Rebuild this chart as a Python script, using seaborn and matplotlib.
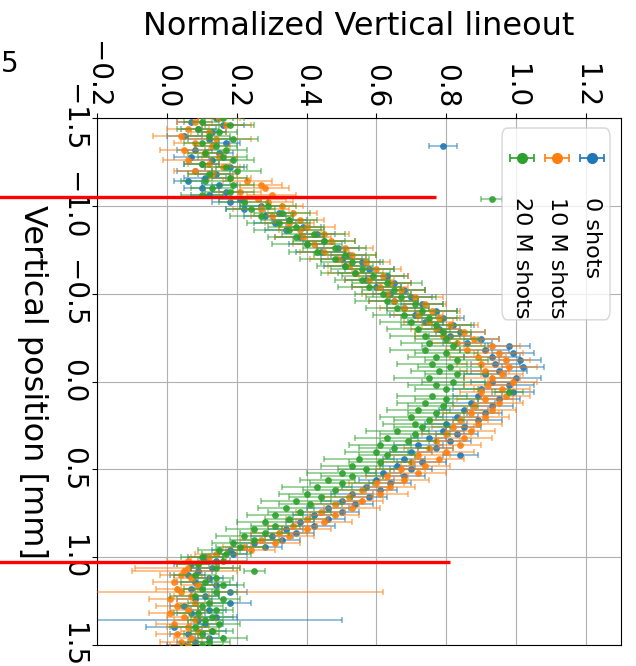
import numpy as np
import matplotlib
matplotlib.use("Agg")
import matplotlib.pyplot as plt
import seaborn as sns
from matplotlib.patches import FancyBboxPatch

# ---------------- data ----------------
positions = np.linspace(-1.5, 1.5, 151)   # vertical position grid [mm]
series_labels = ["0 shots", "10 M shots", "20 M shots"]

blue_vals = [
0.14, 0.07, 0.16, 0.09, 0.13, 0.05, 0.12, 0.17, 0.79, 0.08,
0.15, 0.07, 0.13, 0.10, 0.18, 0.08, 0.14, 0.11, 0.06, 0.15,
0.10, 0.17, 0.12, 0.21, 0.18, 0.27, 0.22, 0.32, 0.28, 0.35,
0.31, 0.39, 0.34, 0.43, 0.38, 0.45, 0.40, 0.49, 0.44, 0.52,
0.50, 0.56, 0.51, 0.58, 0.54, 0.63, 0.57, 0.65, 0.60, 0.68,
0.64, 0.70, 0.65, 0.73, 0.68, 0.77, 0.71, 0.79, 0.74, 0.82,
0.78, 0.84, 0.81, 0.90, 0.86, 0.98, 0.91, 0.99, 0.93, 1.01,
0.94, 1.02, 0.95, 0.91, 1.00, 0.93, 0.98, 0.90, 0.99, 0.89,
0.95, 0.87, 0.93, 0.85, 0.91, 0.83, 0.89, 0.80, 0.85, 0.79,
0.83, 0.75, 0.81, 0.72, 0.77, 0.70, 0.84, 0.68, 0.73, 0.66,
0.70, 0.62, 0.68, 0.60, 0.64, 0.57, 0.61, 0.53, 0.58, 0.50,
0.54, 0.46, 0.50, 0.42, 0.46, 0.38, 0.42, 0.34, 0.37, 0.30,
0.33, 0.25, 0.28, 0.18, 0.19, 0.11, 0.14, 0.07, 0.13, 0.09,
0.06, 0.12, 0.08, 0.14, 0.07, 0.18, 0.11, 0.08, 0.18, 0.05,
0.12, 0.07, 0.14, 0.09, 0.11, 0.02, 0.13, 0.06, 0.12, 0.08,
0.05]

orange_vals = [
0.15, 0.08, 0.17, 0.06, 0.12, 0.04, 0.14, 0.08, 0.13, 0.05,
0.11, 0.15, 0.06, 0.12, 0.16, 0.08, 0.13, 0.18, 0.23, 0.27,
0.28, 0.21, 0.30, 0.26, 0.29, 0.33, 0.27, 0.36, 0.30, 0.38,
0.35, 0.40, 0.38, 0.45, 0.39, 0.47, 0.42, 0.51, 0.45, 0.53,
0.49, 0.57, 0.52, 0.60, 0.54, 0.62, 0.58, 0.64, 0.61, 0.67,
0.63, 0.71, 0.65, 0.74, 0.68, 0.76, 0.72, 0.78, 0.75, 0.81,
0.77, 0.85, 0.79, 0.88, 0.83, 0.93, 0.86, 0.95, 0.89, 0.97,
0.90, 0.98, 0.91, 0.96, 0.93, 0.99, 0.92, 0.96, 0.90, 0.97,
0.91, 0.95, 0.88, 0.93, 0.87, 0.91, 0.84, 0.89, 0.82, 0.87,
0.80, 0.85, 0.77, 0.84, 0.75, 0.80, 0.72, 0.78, 0.70, 0.74,
0.67, 0.72, 0.63, 0.68, 0.60, 0.64, 0.56, 0.61, 0.52, 0.56,
0.48, 0.53, 0.44, 0.48, 0.40, 0.45, 0.36, 0.40, 0.32, 0.35,
0.27, 0.31, 0.22, 0.24, 0.14, 0.12, 0.06, 0.09, 0.06, 0.05,
0.04, 0.07, 0.02, 0.09, 0.03, 0.04, 0.07, 0.01, 0.08, 0.03,
0.06, 0.01, 0.05, 0.08, 0.02, 0.06, 0.09, 0.03, 0.07, 0.04,
0.06]

green_vals = [
0.16, 0.10, 0.18, 0.09, 0.15, 0.12, 0.19, 0.10, 0.14, 0.17,
0.11, 0.16, 0.19, 0.10, 0.17, 0.20, 0.12, 0.18, 0.11, 0.19,
0.13, 0.18, 0.10, 0.93, 0.22, 0.29, 0.24, 0.33, 0.27, 0.35,
0.32, 0.37, 0.35, 0.42, 0.37, 0.45, 0.40, 0.48, 0.43, 0.51,
0.48, 0.53, 0.51, 0.56, 0.54, 0.59, 0.56, 0.63, 0.58, 0.65,
0.62, 0.67, 0.63, 0.71, 0.66, 0.73, 0.68, 0.75, 0.70, 0.77,
0.72, 0.79, 0.74, 0.80, 0.75, 0.82, 0.74, 0.80, 0.77, 0.83,
0.76, 0.81, 0.78, 0.83, 0.75, 0.82, 0.77, 0.80, 0.98, 0.76,
0.80, 0.74, 0.79, 0.72, 0.77, 0.70, 0.75, 0.71, 0.73, 0.66,
0.71, 0.63, 0.69, 0.61, 0.65, 0.60, 0.63, 0.55, 0.61, 0.53,
0.57, 0.50, 0.53, 0.46, 0.50, 0.43, 0.48, 0.40, 0.44, 0.37,
0.41, 0.34, 0.38, 0.31, 0.35, 0.28, 0.31, 0.25, 0.28, 0.22,
0.25, 0.19, 0.21, 0.15, 0.17, 0.10, 0.16, 0.09, 0.14, 0.25,
0.08, 0.14, 0.11, 0.16, 0.10, 0.14, 0.08, 0.16, 0.12, 0.10,
0.14, 0.09, 0.13, 0.11, 0.15, 0.08, 0.13, 0.10, 0.16, 0.12,
0.10]

blue_err = [
0.05, 0.04, 0.06, 0.05, 0.04, 0.05, 0.06, 0.04, 0.04, 0.05,
0.04, 0.05, 0.06, 0.05, 0.04, 0.05, 0.05, 0.06, 0.04, 0.05,
0.05, 0.04, 0.05, 0.06, 0.05, 0.06, 0.05, 0.04, 0.06, 0.05,
0.06, 0.05, 0.06, 0.05, 0.07, 0.06, 0.05, 0.06, 0.07, 0.05,
0.06, 0.05, 0.06, 0.07, 0.05, 0.06, 0.06, 0.05, 0.07, 0.06,
0.05, 0.06, 0.07, 0.06, 0.05, 0.06, 0.07, 0.06, 0.05, 0.06,
0.06, 0.07, 0.06, 0.05, 0.07, 0.06, 0.07, 0.06, 0.08, 0.06,
0.07, 0.06, 0.08, 0.06, 0.07, 0.06, 0.07, 0.08, 0.06, 0.07,
0.06, 0.07, 0.06, 0.07, 0.05, 0.06, 0.07, 0.06, 0.05, 0.06,
0.06, 0.05, 0.06, 0.07, 0.05, 0.06, 0.05, 0.06, 0.07, 0.05,
0.06, 0.05, 0.06, 0.05, 0.06, 0.07, 0.05, 0.06, 0.05, 0.06,
0.05, 0.06, 0.05, 0.06, 0.05, 0.04, 0.06, 0.05, 0.05, 0.06,
0.05, 0.06, 0.05, 0.05, 0.04, 0.05, 0.04, 0.05, 0.06, 0.04,
0.05, 0.04, 0.05, 0.06, 0.04, 0.05, 0.04, 0.05, 0.06, 0.04,
0.05, 0.04, 0.06, 0.41, 0.05, 0.08, 0.04, 0.05, 0.04, 0.05,
0.05]

orange_err = [
0.06, 0.05, 0.07, 0.06, 0.05, 0.08, 0.10, 0.06, 0.05, 0.07,
0.06, 0.05, 0.07, 0.06, 0.05, 0.06, 0.07, 0.06, 0.07, 0.06,
0.07, 0.06, 0.07, 0.08, 0.07, 0.06, 0.08, 0.07, 0.06, 0.07,
0.07, 0.08, 0.06, 0.07, 0.08, 0.07, 0.06, 0.08, 0.07, 0.07,
0.08, 0.07, 0.06, 0.07, 0.08, 0.07, 0.07, 0.06, 0.08, 0.07,
0.07, 0.08, 0.07, 0.06, 0.07, 0.08, 0.07, 0.06, 0.07, 0.08,
0.07, 0.06, 0.08, 0.07, 0.07, 0.08, 0.06, 0.07, 0.08, 0.07,
0.07, 0.08, 0.07, 0.06, 0.08, 0.07, 0.07, 0.08, 0.06, 0.07,
0.08, 0.07, 0.06, 0.07, 0.08, 0.07, 0.08, 0.07, 0.06, 0.07,
0.07, 0.08, 0.07, 0.06, 0.07, 0.08, 0.09, 0.07, 0.08, 0.07,
0.07, 0.08, 0.06, 0.07, 0.08, 0.07, 0.07, 0.08, 0.07, 0.06,
0.07, 0.08, 0.07, 0.07, 0.06, 0.08, 0.07, 0.07, 0.08, 0.07,
0.06, 0.07, 0.06, 0.07, 0.06, 0.05, 0.06, 0.06, 0.15, 0.15,
0.06, 0.05, 0.06, 0.05, 0.06, 0.58, 0.05, 0.06, 0.05, 0.06,
0.05, 0.06, 0.05, 0.06, 0.05, 0.06, 0.05, 0.06, 0.05, 0.06,
0.05]

green_err = [
0.06, 0.05, 0.07, 0.06, 0.05, 0.06, 0.07, 0.05, 0.06, 0.06,
0.05, 0.07, 0.06, 0.05, 0.06, 0.07, 0.06, 0.05, 0.07, 0.06,
0.06, 0.07, 0.06, 0.03, 0.07, 0.08, 0.07, 0.08, 0.09, 0.08,
0.09, 0.08, 0.10, 0.09, 0.08, 0.09, 0.10, 0.09, 0.08, 0.09,
0.10, 0.09, 0.08, 0.09, 0.10, 0.09, 0.08, 0.10, 0.09, 0.09,
0.08, 0.10, 0.09, 0.08, 0.09, 0.10, 0.09, 0.08, 0.09, 0.10,
0.09, 0.08, 0.10, 0.09, 0.08, 0.09, 0.10, 0.09, 0.08, 0.09,
0.10, 0.09, 0.08, 0.09, 0.10, 0.09, 0.08, 0.09, 0.04, 0.10,
0.09, 0.08, 0.10, 0.09, 0.08, 0.09, 0.10, 0.09, 0.08, 0.09,
0.10, 0.09, 0.08, 0.09, 0.10, 0.09, 0.08, 0.10, 0.09, 0.09,
0.08, 0.10, 0.09, 0.08, 0.09, 0.10, 0.09, 0.08, 0.09, 0.10,
0.09, 0.08, 0.09, 0.08, 0.07, 0.08, 0.07, 0.08, 0.07, 0.08,
0.07, 0.06, 0.07, 0.06, 0.07, 0.06, 0.07, 0.06, 0.07, 0.03,
0.06, 0.05, 0.07, 0.06, 0.05, 0.06, 0.07, 0.05, 0.06, 0.06,
0.05, 0.07, 0.06, 0.05, 0.06, 0.07, 0.06, 0.05, 0.07, 0.06,
0.06]

marker_positions = [-1.048, 1.03]     # red boundary lines [mm]
marker_tops = [0.77, 0.81]

x_ticks = [-0.2, 0.0, 0.2, 0.4, 0.6, 0.8, 1.0, 1.2]
y_ticks = [-1.5, -1.0, -0.5, 0.0, 0.5, 1.0, 1.5]

# ---------------- figure ----------------
colors = sns.color_palette("tab10", 3)
fig = plt.figure(figsize=(6.36, 6.66), dpi=100)
ax = fig.add_axes([0.1525, 0.0315, 0.8239, 0.7913])

all_vals = [blue_vals, orange_vals, green_vals]
all_errs = [blue_err, orange_err, green_err]
for k, (vals, errs, col) in enumerate(zip(all_vals, all_errs, colors)):
    ax.errorbar(vals, positions, xerr=errs, fmt="none", ecolor=col,
                elinewidth=1.1, capsize=2, capthick=1.1, alpha=0.6,
                zorder=2 + k)
    sns.scatterplot(x=vals, y=positions, color=col, s=24, linewidth=0,
                    alpha=0.9, ax=ax, zorder=2.5 + k, legend=False)

ax.set_xlim(-0.2, 1.3)
ax.set_ylim(1.5, -1.5)
ax.set_xticks(x_ticks)
ax.set_yticks(y_ticks)
ax.grid(True, color="#b0b0b0", linewidth=0.8)
ax.set_axisbelow(True)

ax.xaxis.tick_top()
ax.xaxis.set_label_position("top")
ax.tick_params(axis="both", labelsize=20, labelrotation=-90)
for lbl in ax.get_yticklabels():
    lbl.set_verticalalignment("center")

ax.set_xlabel("Normalized Vertical lineout", fontsize=23, labelpad=4)
ax.set_ylabel("Vertical position [mm]", fontsize=23, rotation=-90,
              va="top", labelpad=8)

# red boundary lines
ax.hlines(marker_positions, xmin=-0.6, xmax=marker_tops, colors="red",
          linewidth=2.4, clip_on=False, zorder=6)

# custom rotated legend
leg = ax.inset_axes([0.773, 0.617, 0.206, 0.364])
leg.set_xlim(0, 1)
leg.set_ylim(0, 1)
leg.axis("off")
leg.add_patch(FancyBboxPatch((0, 0), 1, 1, boxstyle="round,pad=0,rounding_size=0.05",
                             transform=leg.transAxes, facecolor="white",
                             edgecolor="0.8", alpha=0.8, linewidth=1.0,
                             clip_on=False))
hx = [0.833, 0.509, 0.185]
for lab, col, x in zip(series_labels, colors, hx):
    leg.errorbar([x], [0.844], xerr=[0.115], fmt="o", color=col, ms=7,
                 elinewidth=1.2, capsize=3, capthick=1.2)
    leg.text(x, 0.64, lab, rotation=-90, ha="center", va="top", fontsize=16)

fig.text(0.001, 0.904, "5", fontsize=20, ha="left", va="center")

fig.savefig("out.png", dpi=100)
